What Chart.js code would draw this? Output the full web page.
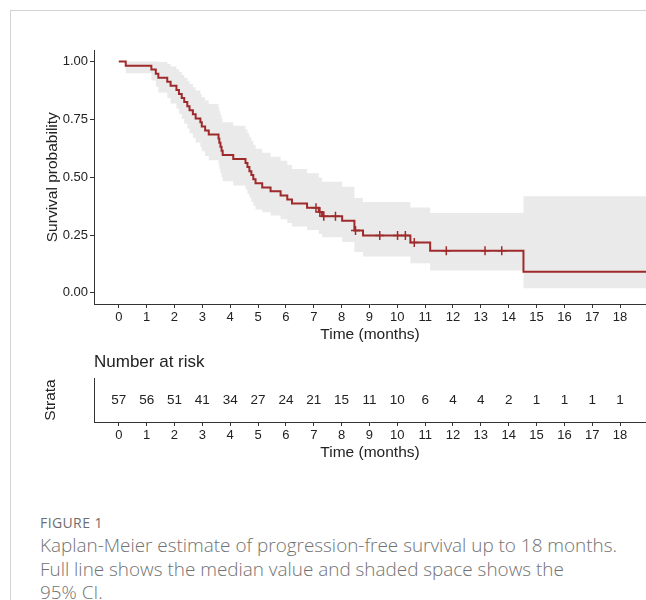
<!DOCTYPE html>
<html><head><meta charset="utf-8">
<script src="https://cdn.jsdelivr.net/npm/chart.js@4.4.1/dist/chart.umd.min.js"></script>
<style>
html,body{margin:0;padding:0;background:#fff;}
body{width:646px;height:600px;position:relative;overflow:hidden;font-family:"Liberation Sans",Arial,sans-serif;}
#card{position:absolute;left:10px;top:10px;width:700px;height:700px;border-left:1px solid #d2d2d2;border-top:1px solid #d2d2d2;}
#km{position:absolute;left:0;top:0;}
#risk{position:absolute;left:0;top:345px;}
#fig{position:absolute;left:40px;top:513px;font-family:"Open Sans",Lato,sans-serif;font-size:14px;letter-spacing:0.4px;color:#6e6e6e;white-space:nowrap;}
#cap{position:absolute;left:40px;top:534px;font-family:"Open Sans",Lato,sans-serif;font-size:18.9px;line-height:23.5px;color:#727272;font-weight:300;white-space:nowrap;}
</style></head>
<body>
<div id="card"></div>
<canvas id="km" width="646" height="345"></canvas>
<canvas id="risk" width="646" height="118"></canvas>
<div id="fig">FIGURE 1</div>
<div id="cap">Kaplan-Meier estimate of progression-free survival up to 18 months.<br>Full line shows the median value and shaded space shows the<br>95% CI.</div>
<script>
// ---- data ----
const kmTimes = [0, 0.25, 1.17, 1.33, 1.42, 1.74, 1.86, 2.07, 2.16, 2.26, 2.35, 2.46, 2.54, 2.66, 2.76, 2.93, 2.98,
  3.10, 3.23, 3.58, 3.61, 3.65, 3.69, 3.73, 4.11, 4.55, 4.62, 4.69, 4.76, 4.83, 4.91, 5.15, 5.45, 5.81,
  6.05, 6.22, 6.76, 7.18, 7.30, 8.02, 8.46, 8.77, 10.47, 11.18, 14.53];
const kmSurv = [1, .982, .965, .947, .930, .912, .895, .877, .860, .842, .825, .807, .789, .772, .754, .737, .719,
  .702, .684, .667, .649, .632, .614, .596, .579, .561, .544, .526, .509, .491, .474, .456, .439, .421,
  .404, .386, .368, .350, .331, .312, .270, .248, .218, .182, .091];
const kmUpper = [1, 1, 1, 1, .998, .989, .978, .967, .955, .942, .930, .916, .903, .889, .875, .860, .846,
  .831, .816, .801, .786, .770, .754, .738, .722, .706, .690, .673, .657, .640, .623, .606, .588, .571,
  .553, .535, .517, .499, .480, .459, .410, .393, .369, .345, .418];
const kmLower = [1, .949, .918, .891, .866, .842, .819, .796, .774, .752, .731, .711, .690, .670, .650, .631, .612,
  .592, .573, .555, .536, .518, .500, .482, .464, .447, .429, .412, .394, .377, .360, .348, .335, .318,
  .302, .287, .272, .255, .240, .220, .177, .157, .128, .097, .020];
const censorTimes = [7.08, 7.22, 7.36, 7.78, 8.50, 9.37, 10.01, 10.29, 10.61, 11.76, 13.15, 13.75];
const censorSurv  = [.368, .350, .331, .331, .270, .248, .248, .248, .218, .182, .182, .182];
const riskTimes  = [0, 1, 2, 3, 4, 5, 6, 7, 8, 9, 10, 11, 12, 13, 14, 15, 16, 17, 18];
const riskCounts = [57, 56, 51, 41, 34, 27, 24, 21, 15, 11, 10, 6, 4, 4, 2, 1, 1, 1, 1];
const xTickValues = [0, 1, 2, 3, 4, 5, 6, 7, 8, 9, 10, 11, 12, 13, 14, 15, 16, 17, 18];
const xTickLabels = ['0','1','2','3','4','5','6','7','8','9','10','11','12','13','14','15','16','17','18'];
const yTickValues = [0, 0.25, 0.5, 0.75, 1];
const yTickLabels = ['0.00','0.25','0.50','0.75','1.00'];

// ---- layout / style ----
const X_MIN = -0.89, X_MAX = 18.93;
const RED = '#9e2a2b';
const BAND = '#eaeaea';
const INK = '#222';
const AXIS = '#333';
const FONT = '"Liberation Sans", Arial, sans-serif';

function stepPts(ts, vs) {
  const p = ts.map((t, i) => ({x: t, y: vs[i]}));
  p.push({x: X_MAX, y: vs[vs.length - 1]});
  return p;
}

const xScaleBase = (h, titlePad) => ({
  type: 'linear', min: X_MIN, max: X_MAX,
  afterBuildTicks: s => { s.ticks = xTickValues.map(v => ({value: v})); },
  afterFit: s => { s.height = h; s.paddingLeft = 0; s.paddingRight = 0; },
  ticks: {callback: (v, i) => xTickLabels[i], color: INK, font: {family: FONT, size: 13}, padding: 2, maxRotation: 0, autoSkip: false},
  grid: {display: true, drawOnChartArea: false, drawTicks: true, tickLength: 4, color: AXIS},
  border: {display: true, color: AXIS, width: 1},
  title: {display: true, text: 'Time (months)', color: INK, font: {family: FONT, size: 15.5}, padding: {top: 0, bottom: titlePad}}
});

new Chart(document.getElementById('km'), {
  type: 'scatter',
  data: {datasets: [
    {data: stepPts(kmTimes, kmUpper), showLine: true, stepped: 'before', borderColor: 'transparent', borderWidth: 0, pointRadius: 0, fill: '+1', backgroundColor: BAND, order: 3},
    {data: stepPts(kmTimes, kmLower), showLine: true, stepped: 'before', borderColor: 'transparent', borderWidth: 0, pointRadius: 0, fill: false, order: 3},
    {data: stepPts(kmTimes, kmSurv), showLine: true, stepped: 'before', borderColor: RED, borderWidth: 2, pointRadius: 0, fill: false, order: 1},
    {data: censorTimes.map((t, i) => ({x: t, y: censorSurv[i]})), showLine: false, pointStyle: 'cross', pointRadius: 4.5, pointBorderColor: RED, pointBorderWidth: 1.5, borderColor: RED, order: 0}
  ]},
  options: {
    responsive: false, animation: false, devicePixelRatio: 1,
    layout: {autoPadding: false, padding: {top: 50.4, left: 40, right: 0, bottom: 0}},
    plugins: {legend: {display: false}, tooltip: {enabled: false}},
    scales: {
      x: xScaleBase(41, 0.7),
      y: {
        type: 'linear', min: -0.048, max: 1.048,
        afterBuildTicks: s => { s.ticks = yTickValues.map(v => ({value: v})); },
        afterFit: s => { s.width = 54; },
        ticks: {callback: (v, i) => yTickLabels[i], color: INK, font: {family: FONT, size: 13}, padding: 2},
        grid: {display: true, drawOnChartArea: false, drawTicks: true, tickLength: 4, color: AXIS},
        border: {display: true, color: AXIS, width: 1},
        title: {display: true, text: 'Survival probability', color: INK, font: {family: FONT, size: 15.5}, padding: {top: 3.5, bottom: 0}}
      }
    }
  }
});

const riskLabels = {
  id: 'riskLabels',
  afterDatasetsDraw(chart) {
    const meta = chart.getDatasetMeta(0);
    const ctx = chart.ctx;
    ctx.save();
    ctx.font = '13.5px ' + FONT;
    ctx.fillStyle = INK;
    ctx.textAlign = 'center';
    ctx.textBaseline = 'middle';
    meta.data.forEach((el, i) => ctx.fillText(String(riskCounts[i]), el.x, el.y));
    ctx.restore();
  }
};

new Chart(document.getElementById('risk'), {
  type: 'scatter',
  data: {datasets: [{data: riskTimes.map(t => ({x: t, y: 0.5})), pointRadius: 0, showLine: false}]},
  plugins: [riskLabels],
  options: {
    responsive: false, animation: false, devicePixelRatio: 1,
    layout: {autoPadding: false, padding: {top: 0, left: 40, right: 0, bottom: 0}},
    plugins: {
      legend: {display: false}, tooltip: {enabled: false},
      title: {display: true, text: 'Number at risk', align: 'start', fullSize: false, color: INK, font: {family: FONT, size: 17, weight: 'normal'}, padding: {top: 6.8, bottom: 5.8}}
    },
    scales: {
      x: xScaleBase(41, 0.7),
      y: {
        type: 'linear', min: 0, max: 1,
        afterBuildTicks: s => { s.ticks = []; },
        afterFit: s => { s.width = 54; },
        ticks: {display: false},
        grid: {display: false},
        border: {display: true, color: AXIS, width: 1},
        title: {display: true, text: 'Strata', color: INK, font: {family: FONT, size: 15.5}, padding: {top: 1.5, bottom: 0}}
      }
    }
  }
});
</script>
</body></html>
